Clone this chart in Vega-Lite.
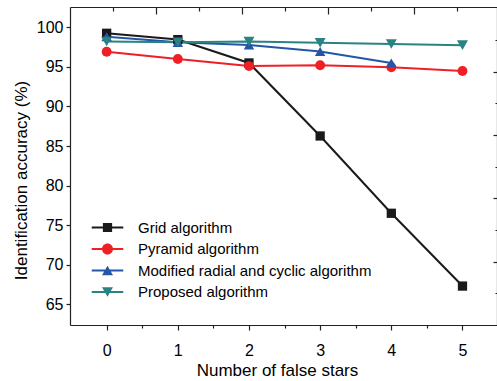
{
  "$schema": "https://vega.github.io/schema/vega-lite/v6.json",
  "width": 427,
  "height": 318,
  "autosize": {"type": "none"},
  "padding": {"left": 70, "top": 7, "right": 0, "bottom": 56},
  "config": {
    "view": {"stroke": null},
    "font": "Liberation Sans",
    "axis": {"domainColor": "#222", "domainWidth": 1.2, "tickColor": "#222", "tickWidth": 1.2, "labelColor": "#000", "titleColor": "#000", "grid": false, "labelFont": "Liberation Sans", "titleFont": "Liberation Sans", "titleFontWeight": "normal"}
  },
  "data": {"values": [
    {"x": 0, "y": 99.25, "series": "Grid algorithm"},
    {"x": 1, "y": 98.45, "series": "Grid algorithm"},
    {"x": 2, "y": 95.5, "series": "Grid algorithm"},
    {"x": 3, "y": 86.27, "series": "Grid algorithm"},
    {"x": 4, "y": 76.5, "series": "Grid algorithm"},
    {"x": 5, "y": 67.3, "series": "Grid algorithm"},
    {"x": 0, "y": 96.92, "series": "Pyramid algorithm"},
    {"x": 1, "y": 96.0, "series": "Pyramid algorithm"},
    {"x": 2, "y": 95.1, "series": "Pyramid algorithm"},
    {"x": 3, "y": 95.2, "series": "Pyramid algorithm"},
    {"x": 4, "y": 94.95, "series": "Pyramid algorithm"},
    {"x": 5, "y": 94.48, "series": "Pyramid algorithm"},
    {"x": 0, "y": 98.8, "series": "Modified radial and cyclic algorithm"},
    {"x": 1, "y": 98.1, "series": "Modified radial and cyclic algorithm"},
    {"x": 2, "y": 97.76, "series": "Modified radial and cyclic algorithm"},
    {"x": 3, "y": 96.95, "series": "Modified radial and cyclic algorithm"},
    {"x": 4, "y": 95.5, "series": "Modified radial and cyclic algorithm"},
    {"x": 0, "y": 98.2, "series": "Proposed algorithm"},
    {"x": 1, "y": 98.1, "series": "Proposed algorithm"},
    {"x": 2, "y": 98.2, "series": "Proposed algorithm"},
    {"x": 3, "y": 98.05, "series": "Proposed algorithm"},
    {"x": 4, "y": 97.9, "series": "Proposed algorithm"},
    {"x": 5, "y": 97.75, "series": "Proposed algorithm"}
  ]},
  "resolve": {"scale": {"x": "independent", "y": "independent", "shape": "independent", "fill": "independent"}},
  "layer": [
    {
      "layer": [
        {
          "mark": {"type": "line", "strokeWidth": 2},
          "encoding": {
            "x": {"field": "x", "type": "quantitative", "scale": {"domain": [-0.515, 5.485], "nice": false, "zero": false},
              "axis": {"orient": "bottom", "values": [0, 0.5, 1, 1.5, 2, 2.5, 3, 3.5, 4, 4.5, 5], "labelExpr": "datum.value % 1 == 0 ? format(datum.value, 'd') : ''", "tickSize": {"condition": {"test": "datum.value % 1 == 0", "value": 5}, "value": 3}, "labelFontSize": 16, "labelPadding": 12, "title": "Number of false stars", "titleFontSize": 17, "titleX": 207, "titleY": 50, "titleBaseline": "alphabetic", "titleAlign": "center"}},
            "y": {"field": "y", "type": "quantitative", "scale": {"domain": [62.38, 102.57], "nice": false, "zero": false},
              "axis": {"orient": "left", "values": [65, 67.5, 70, 72.5, 75, 77.5, 80, 82.5, 85, 87.5, 90, 92.5, 95, 97.5, 100], "labelExpr": "datum.value % 5 == 0 ? format(datum.value, 'd') : ''", "tickSize": {"condition": {"test": "datum.value % 5 == 0", "value": 4}, "value": 2.5}, "labelFontSize": 16, "labelPadding": 3, "title": "Identification accuracy (%)", "titleFontSize": 17, "titleX": -44, "titleY": 173, "titleAngle": -90, "titleBaseline": "alphabetic", "titleAlign": "center"}},
            "color": {"field": "series", "type": "nominal", "scale": {"domain": ["Grid algorithm", "Pyramid algorithm", "Modified radial and cyclic algorithm", "Proposed algorithm"], "range": ["#1a1a1a", "#ee2026", "#2456a8", "#2a8282"]}, "legend": null}
          }
        },
        {
          "mark": {"type": "point", "filled": true, "opacity": 1},
          "encoding": {
            "x": {"field": "x", "type": "quantitative"},
            "y": {"field": "y", "type": "quantitative"},
            "color": {"field": "series", "type": "nominal", "legend": null},
            "shape": {"field": "series", "type": "nominal", "scale": {"domain": ["Grid algorithm", "Pyramid algorithm", "Modified radial and cyclic algorithm", "Proposed algorithm"], "range": ["square", "circle", "triangle-up", "triangle-down"]}, "legend": null},
            "size": {"field": "series", "type": "nominal", "scale": {"domain": ["Grid algorithm", "Pyramid algorithm", "Modified radial and cyclic algorithm", "Proposed algorithm"], "range": [86, 121, 121, 121]}, "legend": null}
          }
        }
      ]
    },
    {
      "mark": {"type": "point", "opacity": 0},
      "encoding": {
        "x": {"field": "x", "type": "quantitative", "scale": {"domain": [-0.515, 5.485], "nice": false, "zero": false},
          "axis": {"orient": "top", "values": [0.093, 0.6965, 1.3, 1.9035, 2.507, 3.1105, 3.714, 4.3175, 4.921], "labels": false, "title": null, "tickSize": {"condition": {"test": "indexof([0.6965, 1.9035, 3.1105, 4.3175], datum.value) >= 0", "value": -7}, "value": -4}}},
        "y": {"field": "y", "type": "quantitative", "scale": {"domain": [62.38, 102.57], "nice": false, "zero": false},
          "axis": {"orient": "right", "values": [66.4, 70.4, 74.4, 78.4, 82.4, 86.4, 90.4, 94.4, 98.4], "labels": false, "title": null, "tickSize": {"condition": {"test": "indexof([70.4, 78.4, 86.4, 94.4], datum.value) >= 0", "value": -4}, "value": -2}}}
      }
    },
    {
      "transform": [{"filter": "datum.y < 0"}],
      "mark": {"type": "point", "filled": true, "opacity": 1},
      "encoding": {
        "fill": {"field": "series", "type": "nominal", "scale": {"domain": ["Grid algorithm", "Pyramid algorithm", "Modified radial and cyclic algorithm", "Proposed algorithm"], "range": ["#1a1a1a", "#ee2026", "#2456a8", "#2a8282"]},
          "legend": {"orient": "none", "legendX": 30, "legendY": 213, "title": null, "symbolSize": 121, "labelFontSize": 15, "labelFont": "Liberation Sans", "labelColor": "#000", "labelOffset": 23, "labelLimit": 400, "rowPadding": 5.5, "padding": 0, "symbolStrokeWidth": 0, "symbolOpacity": 1}},
        "shape": {"field": "series", "type": "nominal", "scale": {"domain": ["Grid algorithm", "Pyramid algorithm", "Modified radial and cyclic algorithm", "Proposed algorithm"], "range": [
          "M-2.87,-0.18H2.87V0.18H-2.87ZM-0.84,-0.84H0.84V0.84H-0.84Z",
          "M-2.87,-0.18H2.87V0.18H-2.87ZM-1,0A1,1,0,1,1,1,0A1,1,0,1,1,-1,0Z",
          "M-2.87,-0.18H2.87V0.18H-2.87ZM0,-0.87L1,0.87L-1,0.87Z",
          "M-2.87,-0.18H2.87V0.18H-2.87ZM0,0.87L-1,-0.87L1,-0.87Z"
        ]}, "legend": {"orient": "none", "legendX": 30, "legendY": 213, "title": null, "symbolSize": 121, "labelFontSize": 15, "labelFont": "Liberation Sans", "labelColor": "#000", "labelOffset": 23, "labelLimit": 400, "rowPadding": 5.5, "padding": 0, "symbolStrokeWidth": 0, "symbolOpacity": 1}}
      }
    }
  ]
}
